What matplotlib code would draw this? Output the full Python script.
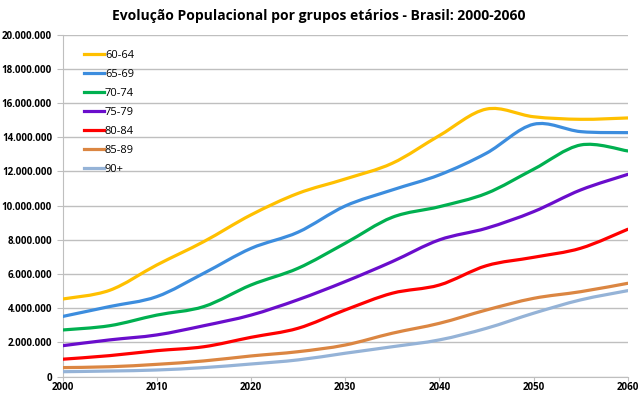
import matplotlib.pyplot as plt
import numpy as np
from matplotlib.path import Path
from matplotlib.patches import PathPatch
from matplotlib.lines import Line2D
from matplotlib.ticker import FuncFormatter

plt.rcParams['font.family'] = ['Open Sans', 'DejaVu Sans']

years = [2000, 2005, 2010, 2015, 2020, 2025, 2030, 2035, 2040, 2045, 2050, 2055, 2060]

# populacao em milhoes
g60_64 = [4.54, 5.05, 6.53, 7.90, 9.46, 10.72, 11.56, 12.48, 14.10, 15.65, 15.20, 15.05, 15.13]
g65_69 = [3.52, 4.10, 4.68, 6.05, 7.50, 8.45, 9.98, 10.92, 11.80, 13.07, 14.76, 14.33, 14.27]
g70_74 = [2.73, 2.98, 3.60, 4.10, 5.36, 6.34, 7.80, 9.32, 9.94, 10.72, 12.13, 13.55, 13.20]
g75_79 = [1.81, 2.15, 2.44, 2.98, 3.60, 4.50, 5.56, 6.73, 8.00, 8.68, 9.65, 10.92, 11.83]
g80_84 = [1.02, 1.23, 1.52, 1.75, 2.30, 2.83, 3.90, 4.88, 5.36, 6.49, 6.98, 7.51, 8.62]
g85_89 = [0.53, 0.58, 0.72, 0.92, 1.21, 1.46, 1.85, 2.54, 3.12, 3.90, 4.58, 4.97, 5.46]
g90 = [0.29, 0.33, 0.39, 0.53, 0.74, 0.98, 1.37, 1.75, 2.15, 2.83, 3.71, 4.49, 5.03]

labels = ["60-64", "65-69", "70-74", "75-79", "80-84", "85-89", "90+"]
series = [g60_64, g65_69, g70_74, g75_79, g80_84, g85_89, g90]
colors = ["#FFC000", "#3C8DDE", "#00B050", "#6A0DCC", "#FF0000", "#DB8642", "#95B3D7"]


def smooth_path(x, y):
    # bezier como a linha suavizada do Excel
    pts = np.column_stack([x, y])
    n = len(pts)
    verts = [pts[0]]
    codes = [Path.MOVETO]
    for i in range(n - 1):
        p0 = pts[i - 1] if i > 0 else pts[i]
        p1 = pts[i]
        p2 = pts[i + 1]
        p3 = pts[i + 2] if i + 2 < n else pts[i + 1]
        c1 = p1 + (p2 - p0) / 6.0
        c2 = p2 - (p3 - p1) / 6.0
        verts += [c1, c2, p2]
        codes += [Path.CURVE4] * 3
    return Path(verts, codes)


fig = plt.figure(figsize=(6.38, 3.94), dpi=100)
ax = fig.add_axes([0.098, 0.044, 0.886, 0.868])

handles = []
for vals, lab, c in zip(series, labels, colors):
    y = np.array(vals) * 1e6
    p = smooth_path(np.array(years, dtype=float), y)
    ax.add_patch(PathPatch(p, facecolor='none', edgecolor=c, lw=2.3, capstyle='round', zorder=3))
    handles.append(Line2D([], [], color=c, lw=2.3))

ax.set_xlim(2000, 2060)
ax.set_ylim(0, 20e6)
ax.set_xticks(range(2000, 2061, 10))
ax.set_yticks(np.arange(0, 20e6 + 1, 2e6))
ax.yaxis.set_major_formatter(FuncFormatter(lambda v, p: f"{int(v):,}".replace(",", ".")))
ax.grid(axis='y', color='#BFBFBF', lw=1)
ax.set_axisbelow(True)
for s in ['top', 'right']:
    ax.spines[s].set_visible(False)
for s in ['left', 'bottom']:
    ax.spines[s].set_color('#BFBFBF')
ax.tick_params(colors='#BFBFBF', length=4, labelcolor='black', labelsize=7)
ax.tick_params(axis='x', length=3, pad=1)
for t in ax.get_xticklabels() + ax.get_yticklabels():
    t.set_fontweight('bold')

ax.legend(handles, labels, loc='upper left', bbox_to_anchor=(0.02, 0.985), frameon=False,
          fontsize=8, handlelength=1.8, handletextpad=0.1, labelspacing=0.72)

fig.suptitle("Evolução Populacional por grupos etários - Brasil: 2000-2060",
             x=0.5, y=0.978, fontsize=10, fontweight='bold')

fig.savefig("out.png", dpi=100)
